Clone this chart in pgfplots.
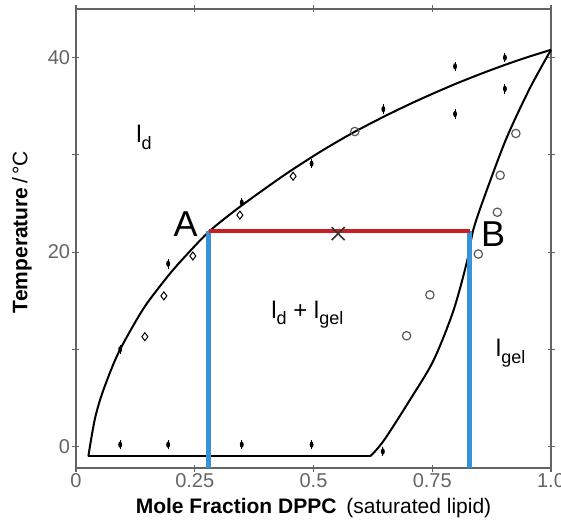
\documentclass[border=0pt]{standalone}
\usepackage{pgfplots}
\pgfplotsset{compat=1.18}
\usepackage{fontspec}
\setmainfont{Liberation Sans}

\definecolor{tieRed}{RGB}{200,30,36}
\definecolor{tieBlue}{RGB}{55,146,216}
\definecolor{axGray}{RGB}{100,100,100}

\newcommand\phlab[2]{l\raisebox{-0.5ex}{\fontsize{#2}{#2}\selectfont #1}}

\begin{document}
\begin{tikzpicture}
\useasboundingbox (-38pt,-28pt) rectangle (242.5pt,234pt);
\begin{axis}[
    width=237.5pt, height=229.5pt, scale only axis,
    xmin=0, xmax=1, ymin=-2.2, ymax=45,
    xtick={0,0.25,0.5,0.75,1}, xticklabels={0,0.25,0.5,0.75,1.0},
    ytick={0,10,20,30,40}, yticklabels={0,,20,,40},
    tick align=center, major tick length=3.5pt,
    axis line style={axGray, line width=0.7pt},
    tick style={axGray, line width=0.6pt},
    ticklabel style={font=\fontsize{10}{12}\selectfont, text=axGray, inner sep=1pt},
    xlabel={\textbf{Mole Fraction DPPC}\hspace{5pt}(saturated lipid)},
    ylabel={\textbf{Temperature}\,/\,°C},
    label style={font=\fontsize{10.5}{12}\selectfont},
    xlabel style={at={(axis description cs:0.5,-0.088)}, anchor=center},
    ylabel style={at={(axis description cs:-0.114,0.514)}, anchor=center},
    clip=false,
]
% phase boundaries
\addplot[black, line width=1pt, smooth, tension=0.5] coordinates {
    (0.026,-1.0) (0.032,0.8) (0.040,2.9) (0.050,4.7) (0.062,6.4) (0.078,8.4)
    (0.093,10.0) (0.12,12.4) (0.149,14.7) (0.198,17.8) (0.240,20.1) (0.282,22.2)
    (0.338,24.4) (0.40,26.6) (0.45,28.3) (0.517,30.4) (0.584,32.3) (0.647,33.9)
    (0.70,35.16) (0.75,36.27) (0.801,37.34) (0.85,38.29) (0.90,39.2) (0.95,40.04)
    (1.0,40.8)
};
\addplot[black, line width=1pt, smooth, tension=0.5] coordinates {
    (1.0,40.8) (0.956,36.9) (0.907,31.8) (0.865,26.4) (0.837,22.4) (0.823,19.0)
    (0.794,13.9) (0.752,8.8) (0.703,4.8) (0.654,1.05) (0.633,-0.3) (0.619,-1.0)
};
\addplot[black, line width=1pt] coordinates {(0.026,-1.0) (0.619,-1.0)};

% tie line and lever
\addplot[tieBlue, line width=2.3pt] coordinates {(0.279,-2.2) (0.279,22.2)};
\addplot[tieBlue, line width=2.3pt] coordinates {(0.829,-2.2) (0.829,22.2)};
\addplot[tieRed, line width=2.2pt] coordinates {(0.279,22.2) (0.829,22.2)};
\addplot[only marks, mark=x, mark size=4.6pt, black!80, line width=0.8pt] coordinates {(0.552,21.9)};

% data points
\addplot[only marks, mark=diamond, mark size=2pt, black, line width=0.5pt,
    mark options={fill=white}] coordinates {
    (0.145,11.3) (0.185,15.5) (0.246,19.6) (0.345,23.8) (0.457,27.8)
};
\addplot[only marks, mark=o, mark size=2.1pt, black!65, line width=0.6pt] coordinates {
    (0.587,32.4) (0.926,32.2) (0.893,27.9) (0.887,24.1) (0.847,19.8)
    (0.745,15.6) (0.696,11.4)
};
\addplot[only marks, mark=|, mark size=2.4pt, black, line width=0.5pt] coordinates {
    (0.093,0.2) (0.194,0.2) (0.349,0.2) (0.496,0.2) (0.646,-0.5)
    (0.093,10.0) (0.194,18.8) (0.349,25.1) (0.496,29.1) (0.647,34.7)
    (0.798,39.1) (0.798,34.2) (0.903,40.0) (0.903,36.8)
};
\addplot[only marks, mark=*, mark size=0.75pt, black, mark options={yscale=1.8}] coordinates {
    (0.093,0.2) (0.194,0.2) (0.349,0.2) (0.496,0.2) (0.646,-0.5)
    (0.093,10.0) (0.194,18.8) (0.349,25.1) (0.496,29.1) (0.647,34.7)
    (0.798,39.1) (0.798,34.2) (0.903,40.0) (0.903,36.8)
};

% labels
\node[anchor=base east, font=\fontsize{18}{20}\selectfont, inner sep=0pt] at (axis cs:0.257,21.6) {A};
\node[anchor=base west, font=\fontsize{18}{20}\selectfont, inner sep=0pt] at (axis cs:0.852,20.6) {B};
\node[font=\fontsize{12}{14}\selectfont] at (axis cs:0.143,31.8) {\phlab{d}{9}};
\node[font=\fontsize{12}{14}\selectfont] at (axis cs:0.487,13.6) {\phlab{d}{9} + \phlab{gel}{9}};
\node[font=\fontsize{12}{14}\selectfont] at (axis cs:0.915,9.6) {\phlab{gel}{9}};
\end{axis}
\end{tikzpicture}
\end{document}
